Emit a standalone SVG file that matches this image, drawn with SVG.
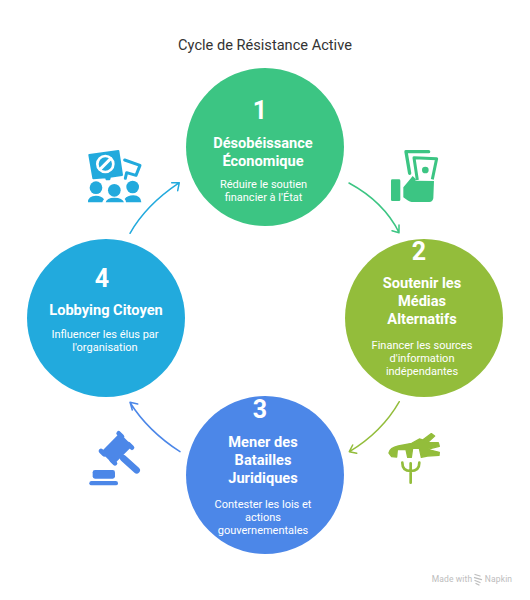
<svg xmlns="http://www.w3.org/2000/svg" width="530" height="600" viewBox="0 0 530 600">
<style>
text{font-family:Roboto,"Liberation Sans",sans-serif;text-anchor:middle;fill:#fff}
.num{font-size:25px;font-weight:700}
.h{font-size:14.6px;font-weight:700}
.b{font-size:11px}
.c{fill:none;stroke-width:1.5;stroke-linecap:round;stroke-linejoin:round}
.wm{font-size:8.500px;fill:#bdbdbd;letter-spacing:.15px}
</style>
<rect width="530" height="600" fill="#fff"/>
<text x="265" y="50" style="font-size:14.6px;fill:#333">Cycle de Résistance Active</text>
<g id="connectors">
<path class="c" stroke="#3cc583" d="M349 183Q384 202 399 232.500M392 230.700L399 232.700L399 225"/>
<path class="c" stroke="#93bd3b" d="M399.300 401.700Q382 432 349.500 451.700M356.700 453.300L349.300 451.700L352.700 445"/>
<path class="c" stroke="#4c87e8" d="M180 451.700Q148 431 130 402.500M137.700 404L130 402.300L132.300 410"/>
<path class="c" stroke="#22aadd" d="M130 233.300Q146 205 179 182.900M171.700 182.700L179.300 182.700L177.700 190.700"/>
</g>
<g id="node1">
<circle cx="265" cy="147" r="79" fill="#3cc583"/>
<text class="num" x="260" y="119">1</text>
<text class="h" x="263" y="148">Désobéissance</text>
<text class="h" x="263" y="166">Économique</text>
<text class="b" x="263.500" y="188">Réduire le soutien</text>
<text class="b" x="263.500" y="201">financier à l'État</text>
</g>
<g id="node2">
<circle cx="424" cy="318" r="79" fill="#93bd3b"/>
<text class="num" x="419" y="260">2</text>
<text class="h" x="422" y="288">Soutenir les</text>
<text class="h" x="422" y="306">Médias</text>
<text class="h" x="422" y="324">Alternatifs</text>
<text class="b" x="422" y="349">Financer les sources</text>
<text class="b" x="422" y="362">d'information</text>
<text class="b" x="422" y="375">indépendantes</text>
</g>
<g id="node3">
<circle cx="265" cy="475" r="79" fill="#4c87e8"/>
<text class="num" x="260" y="418">3</text>
<text class="h" x="263" y="447">Mener des</text>
<text class="h" x="263" y="465">Batailles</text>
<text class="h" x="263" y="483">Juridiques</text>
<text class="b" x="263" y="508">Contester les lois et</text>
<text class="b" x="263" y="521">actions</text>
<text class="b" x="263" y="534">gouvernementales</text>
</g>
<g id="node4">
<circle cx="106" cy="318" r="79" fill="#22aadd"/>
<text class="num" x="102" y="287">4</text>
<text class="h" x="106" y="315">Lobbying Citoyen</text>
<text class="b" x="105" y="338">Influencer les élus par</text>
<text class="b" x="105" y="351">l'organisation</text>
</g>
<g id="icon1" fill="#22aadd" transform="translate(70 130) scale(.3333)">
<path stroke="#22aadd" stroke-width="6" stroke-linejoin="round" d="M58 75L145 63L156 135L120 140L118 148L110 148L108 142L70 145Z"/>
<circle cx="106" cy="102" r="24" fill="none" stroke="#fff" stroke-width="8"/>
<path d="M90 118L122 86" stroke="#fff" stroke-width="9" stroke-linecap="round"/>
<path fill="none" stroke="#22aadd" stroke-width="9" stroke-linejoin="round" stroke-linecap="round" d="M164 90L210 106L198 136L170 128L166 145"/>
<circle cx="78" cy="173" r="19"/><circle cx="133" cy="181" r="19"/><circle cx="188" cy="171" r="19"/>
<path d="M54 217Q54 197 78 197Q95 197 102 208Q98 212 97 217ZM107 217Q110 203 133 203Q158 203 162 217ZM168 217Q168 211 164 207Q172 196 190 196Q213 197 214 217Z"/>
</g>
<g id="icon2" fill="#3cc583" transform="translate(340 130) scale(.3333)">
<rect x="153" y="148" width="28" height="65" rx="4"/>
<path d="M190 172L204 155L218 138L228 148L226 152L282 153L280 205Q278 216 268 216L215 216Q205 214 190 202Z"/>
<path fill="none" stroke="#3cc583" stroke-width="10" stroke-linejoin="round" stroke-linecap="round" d="M209 130L198 65L266 65"/>
<path fill="none" stroke="#3cc583" stroke-width="9" stroke-linejoin="round" d="M232 150L222 83L290 86L277 148"/>
<circle cx="256" cy="120" r="10"/>
</g>
<g id="icon3" fill="#93bd3b" transform="translate(340 395) scale(.3333)">
<path stroke="#93bd3b" stroke-width="4" stroke-linejoin="round" d="M147 174Q150 158 175 153L215 145L238 132L248 135L274 116L284 123L262 143L295 143L298 154L262 163L298 172L297 181L262 183L244 187L238 160L218 160L214 187L203 187L198 164L172 164L170 186L155 185Z"/>
<path fill="none" stroke="#93bd3b" stroke-width="8" stroke-linecap="round" d="M187 203Q187 228 212 228Q238 228 238 203M212 205L212 263"/>
</g>
<g id="icon4" fill="#4c87e8" transform="translate(70 395) scale(.3333)">
<rect x="-40" y="-27" width="80" height="54" rx="6" transform="translate(140 162) rotate(-45)"/>
<path d="M93 168L103 178M146 115L156 125M135 205L125 195M186 158L176 148" stroke="#4c87e8" stroke-width="14" stroke-linecap="round" fill="none"/>
<path d="M160 190L200 226" stroke="#4c87e8" stroke-width="20" stroke-linecap="round"/>
<rect x="68" y="225" width="67" height="26" rx="7"/>
<rect x="58" y="258" width="86" height="13" rx="6.500"/>
</g>
<g id="watermark">
<text class="wm" x="452" y="582">Made with</text>
<path d="M475 574.500L480 576M474.500 577.500L481.500 579.500M475 580.500L480 582.500M476 583.500L479 585" fill="none" stroke="#bdbdbd" stroke-width="1.300" stroke-linecap="round"/>
<text class="wm" x="498.500" y="582">Napkin</text>
</g>
</svg>
